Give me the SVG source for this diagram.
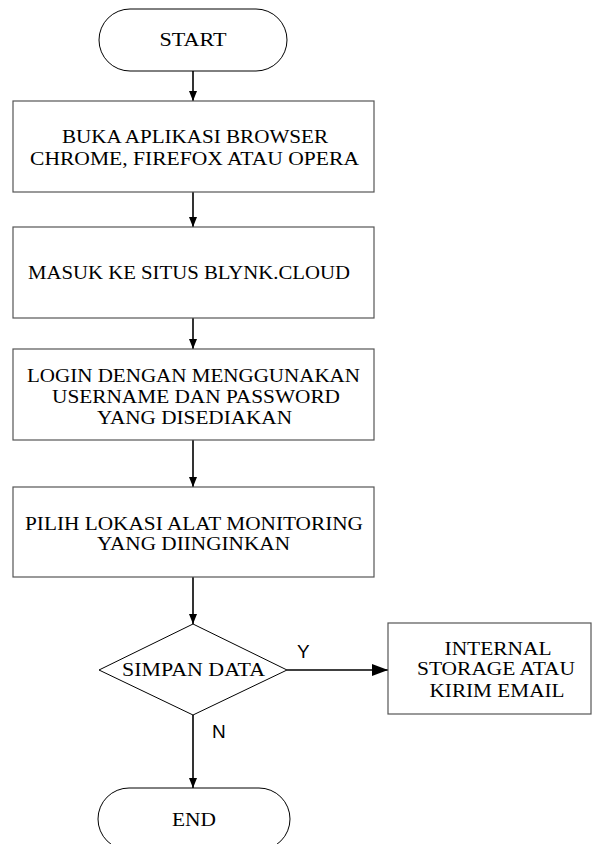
<svg xmlns="http://www.w3.org/2000/svg" width="592" height="844" viewBox="0 0 592 844">
<style>
.box{fill:#fff;stroke:#555;stroke-width:1.2}
.term{fill:#fff;stroke:#000;stroke-width:1}
.t{font-family:"Liberation Serif","Times New Roman",serif;font-size:19px;fill:#000;text-anchor:middle}
.lbl{font-family:"Liberation Sans",Arial,sans-serif;font-size:19px;fill:#000}
.c{stroke:#000;stroke-width:1.6;fill:none}
</style>
<defs>
<marker id="a" viewBox="0 0 10 8" refX="10" refY="4" markerWidth="10" markerHeight="8" markerUnits="userSpaceOnUse" orient="auto"><path d="M0,0L10,4L0,8z" fill="#000"/></marker>
<marker id="b" viewBox="0 0 16 12" refX="16" refY="6" markerWidth="16" markerHeight="12" markerUnits="userSpaceOnUse" orient="auto"><path d="M0,0L16,6L0,12z" fill="#000"/></marker>
</defs>
<rect width="592" height="844" fill="#fff"/>
<g id="connectors">
<line class="c" x1="193" y1="71" x2="193" y2="101" marker-end="url(#a)"/>
<line class="c" x1="193" y1="192" x2="193" y2="227" marker-end="url(#a)"/>
<line class="c" x1="193" y1="318" x2="193" y2="349" marker-end="url(#a)"/>
<line class="c" x1="193" y1="440" x2="193" y2="487" marker-end="url(#a)"/>
<line class="c" x1="193" y1="577" x2="193" y2="624" marker-end="url(#a)"/>
<line class="c" x1="287" y1="670" x2="388" y2="670" marker-end="url(#b)"/>
<line class="c" x1="193" y1="715" x2="193" y2="788" marker-end="url(#a)"/>
<text class="lbl" x="297" y="658">Y</text>
<text class="lbl" x="212" y="738">N</text>
</g>
<g id="start">
<rect class="term" x="99" y="9" width="188" height="62" rx="31" ry="31"/>
<text class="t" x="193" y="46" textLength="67" lengthAdjust="spacingAndGlyphs">START</text>
</g>
<g id="step1">
<rect class="box" x="13" y="101" width="361" height="91"/>
<text class="t" x="195" y="143" textLength="266" lengthAdjust="spacingAndGlyphs">BUKA APLIKASI BROWSER</text>
<text class="t" x="194.5" y="165" textLength="329" lengthAdjust="spacingAndGlyphs">CHROME, FIREFOX ATAU OPERA</text>
</g>
<g id="step2">
<rect class="box" x="13" y="227" width="361" height="91"/>
<text class="t" x="189" y="279" textLength="322" lengthAdjust="spacingAndGlyphs">MASUK KE SITUS BLYNK.CLOUD</text>
</g>
<g id="step3">
<rect class="box" x="13" y="349" width="361" height="91"/>
<text class="t" x="193.5" y="382" textLength="333" lengthAdjust="spacingAndGlyphs">LOGIN DENGAN MENGGUNAKAN</text>
<text class="t" x="196" y="403" textLength="288" lengthAdjust="spacingAndGlyphs">USERNAME DAN PASSWORD</text>
<text class="t" x="194.5" y="424" textLength="195" lengthAdjust="spacingAndGlyphs">YANG DISEDIAKAN</text>
</g>
<g id="step4">
<rect class="box" x="13" y="487" width="361" height="90"/>
<text class="t" x="194" y="530" textLength="338" lengthAdjust="spacingAndGlyphs">PILIH LOKASI ALAT MONITORING</text>
<text class="t" x="193.5" y="550" textLength="193" lengthAdjust="spacingAndGlyphs">YANG DIINGINKAN</text>
</g>
<g id="decision">
<polygon class="term" points="193,624 287,670 193,715 99,670"/>
<text class="t" x="193.5" y="676" textLength="143" lengthAdjust="spacingAndGlyphs">SIMPAN DATA</text>
</g>
<g id="storage">
<rect class="box" x="388" y="623" width="203" height="91"/>
<text class="t" x="498" y="655" textLength="107" lengthAdjust="spacingAndGlyphs">INTERNAL</text>
<text class="t" x="496" y="675" textLength="158" lengthAdjust="spacingAndGlyphs">STORAGE ATAU</text>
<text class="t" x="497" y="697" textLength="135" lengthAdjust="spacingAndGlyphs">KIRIM EMAIL</text>
</g>
<g id="end">
<rect class="term" x="98" y="788" width="192" height="62" rx="31" ry="31"/>
<text class="t" x="194" y="826" textLength="44" lengthAdjust="spacingAndGlyphs">END</text>
</g>
</svg>
